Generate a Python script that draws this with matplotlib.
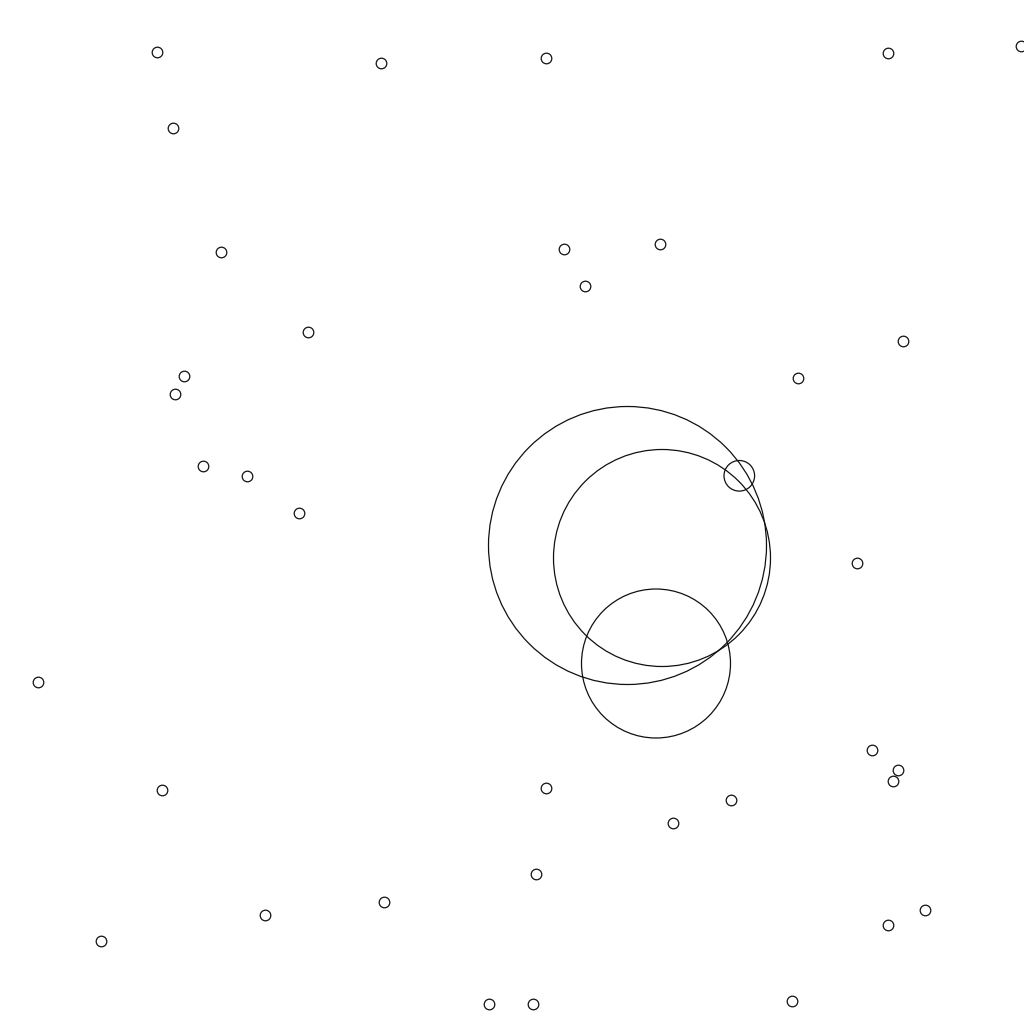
import matplotlib
matplotlib.use("Agg")
import matplotlib.pyplot as plt
from matplotlib.patches import Circle

# small nodes (pixel-space coordinates)
small_x = [157, 381, 546, 888, 1021, 173, 221, 564, 660, 585, 308, 903, 184, 175, 798,
           203, 247, 299, 857, 38, 872, 898, 893, 162, 546, 731, 673, 536, 384, 265,
           101, 888, 925, 489, 533, 792]
small_y = [52, 63, 58, 53, 46, 128, 252, 249, 244, 286, 332, 341, 376, 394, 378,
           466, 476, 513, 563, 682, 750, 770, 781, 790, 788, 800, 823, 874, 902, 915,
           941, 925, 910, 1004, 1004, 1001]
small_r = 5.3

# large circles
big_x = [627, 661.5, 655.5, 738.8]
big_y = [545, 557.5, 663, 475.3]
big_r = [139, 108.5, 74.5, 15.3]

fig = plt.figure(figsize=(10.24, 10.24), dpi=100)
ax = fig.add_axes([0, 0, 1, 1])
ax.set_xlim(-0.5, 1023.5)
ax.set_ylim(1023.5, -0.5)
ax.set_aspect("equal")
ax.axis("off")

for x, y in zip(small_x, small_y):
    ax.add_patch(Circle((x, y), small_r, fill=False, edgecolor="#111111", linewidth=0.9))
for x, y, r in zip(big_x, big_y, big_r):
    ax.add_patch(Circle((x, y), r, fill=False, edgecolor="#111111", linewidth=0.9))

fig.savefig("out.png", dpi=100, facecolor="white")
